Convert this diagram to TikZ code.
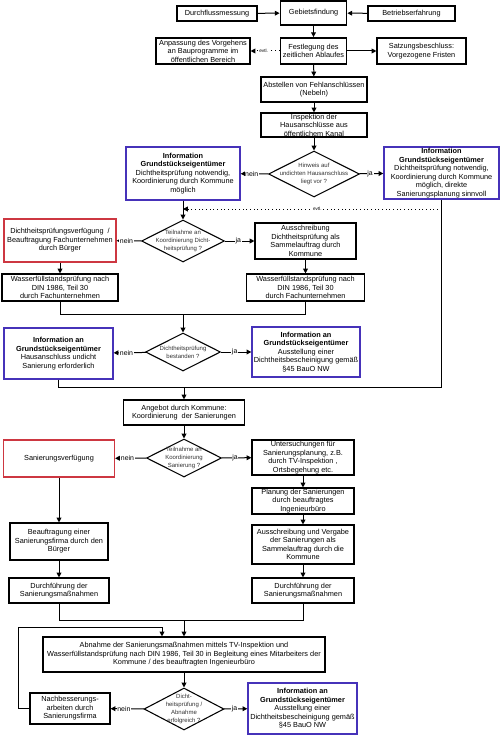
\documentclass[tikz,border=0pt]{standalone}
\usepackage{fontspec}
\setmainfont{Liberation Sans}
\usetikzlibrary{arrows.meta,shapes.geometric,calc}
\definecolor{redb}{RGB}{205,55,65}
\definecolor{blueb}{RGB}{70,50,185}
\begin{document}
\begin{tikzpicture}[x=0.75pt,y=-0.75pt,
  box/.style={draw, line width=0.85pt, align=center, inner sep=0pt, font=\fontsize{5.5}{6.4}\selectfont},
  thk/.style={box, line width=1.35pt},
  redbox/.style={box, draw=redb},
  bluebox/.style={box, draw=blueb, line width=1pt},
  sz/.style 2 args={minimum width=#1*0.75pt, minimum height=#2*0.75pt},
  dia/.style={draw, diamond, inner sep=0pt, line width=0.8pt},
  dtext/.style={align=center, inner sep=0pt, font=\fontsize{4.5}{5.8}\selectfont, text=black!80},
  arr/.style={line width=0.75pt, -{Triangle[length=3.6pt,width=3.6pt]}},
  ln/.style={line width=0.75pt},
  lbl/.style={fill=white, inner sep=0.5pt, font=\fontsize{5.2}{6}\selectfont},
  evtl/.style={fill=white, inner sep=0.6pt, font=\fontsize{3.5}{4}\selectfont},
  dots/.style={line width=0.75pt, dotted, -{Triangle[length=3.6pt,width=3.6pt]}}
]
\fill[white] (0,0) rectangle (500,735);
\useasboundingbox (0,0) rectangle (500,735);

% top rows
\node[box, sz={80}{15}] (durch) at (217,13.5) {Durchflussmessung};
\node[thk, sz={66}{24}] (gebiet) at (313.5,13) {Gebietsfindung};
\node[box, sz={87}{15}] (betrieb) at (411.5,13.5) {Betriebserfahrung};
\node[box, sz={94}{26}] (anpass) at (203,51) {Anpassung des Vorgehens\\an Bauprogramme im\\öffentlichen Bereich};
\node[thk, sz={66}{26}] (festleg) at (313.5,51) {Festlegung des\\zeitlichen Ablaufes};
\node[box, sz={89}{26}] (satzung) at (421.5,51) {Satzungsbeschluss:\\Vorgezogene Fristen};
\node[box, sz={106}{25}] (abstellen) at (314,89.5) {Abstellen von Fehlanschlüssen\\(Nebeln)};
\node[box, sz={106}{24}] (inspekt) at (314,125) {Inspektion der\\Hausanschlüsse aus\\öffentlichem Kanal};

% decision 1
\node[dia, minimum width=91*0.75pt, minimum height=46*0.75pt] (d1) at (314,174) {};
\node[dtext] (d1t) at (d1) {Hinweis auf\\undichten Hausanschluss\\liegt vor ?};
\node[bluebox, sz={114}{53}] (infoL) at (183,173.5) {\textbf{Information}\\\textbf{Grundstückseigentümer}\\Dichtheitsprüfung notwendig,\\Koordinierung durch Kommune\\möglich};
\node[bluebox, sz={115}{52}] (infoR) at (441.5,173) {\textbf{Information}\\\textbf{Grundstückseigentümer}\\Dichtheitsprüfung notwendig,\\Koordinierung durch Kommune\\möglich, direkte\\Sanierungsplanung sinnvoll};

% decision 2
\node[dia, minimum width=83*0.75pt, minimum height=42*0.75pt] (d2) at (183,241) {};
\node[dtext] (d2t) at (d2) {Teilnahme an\\Koordinierung Dicht-\\heitsprüfung ?};
\node[redbox, sz={112}{43}] (dvf) at (60,240.5) {Dichtheitsprüfungsverfügung~~/\\Beauftragung Fachunternehmen\\durch Bürger};
\node[box, sz={101}{36}] (aus1) at (305.5,241) {Ausschreibung\\Dichtheitsprüfung als\\Sammelauftrag durch\\Kommune};
\node[box, sz={116}{27}] (wasL) at (60,287.5) {Wasserfüllstandsprüfung nach\\DIN 1986, Teil 30\\durch Fachunternehmen};
\node[box, sz={118}{27}] (wasR) at (305.5,287.5) {Wasserfüllstandsprüfung nach\\DIN 1986, Teil 30\\durch Fachunternehmen};

% decision 3
\node[dia, minimum width=75*0.75pt, minimum height=38*0.75pt] (d3) at (183,352) {};
\node[dtext] (d3t) at (d3) {Dichtheitsprüfung\\bestanden ?};
\node[bluebox, sz={109}{51}] (info3L) at (58.5,353.5) {\textbf{Information an}\\\textbf{Grundstückseigentümer}\\Hausanschluss undicht\\Sanierung erforderlich};
\node[bluebox, sz={108}{50}] (info3R) at (306,352) {\textbf{Information an}\\\textbf{Grundstückseigentümer}\\Ausstellung einer\\Dichtheitsbescheinigung gemäß\\§45 BauO NW};

% Sanierung
\node[box, sz={121}{25}] (angebot) at (184,412.5) {Angebot durch Kommune:\\Koordinierung~~der Sanierungen};
\node[dia, minimum width=75*0.75pt, minimum height=38*0.75pt] (d4) at (184,458) {};
\node[dtext] (d4t) at (d4) {Teilnahme an\\Koordinierung\\Sanierung ?};
\node[redbox, sz={111}{37}] (sanv) at (59,458.5) {Sanierungsverfügung};
\node[box, sz={102}{35}] (unters) at (303,457.5) {Untersuchungen für\\Sanierungsplanung, z.B.\\durch TV-Inspektion ,\\Ortsbegehung etc.};
\node[box, sz={102}{26}] (planung) at (303,501) {Planung der Sanierungen\\durch beauftragtes\\Ingenieurbüro};
\node[box, sz={102}{39}] (ausver) at (303,544.5) {Ausschreibung und Vergabe\\der Sanierungen als\\Sammelauftrag durch die\\Kommune};
\node[box, sz={102}{25}] (durchR) at (303,590.5) {Durchführung der\\Sanierungsmaßnahmen};
\node[box, sz={98}{37}] (beauf) at (59,541.5) {Beauftragung einer\\Sanierungsfirma durch den\\Bürger};
\node[box, sz={100}{25}] (durchL) at (59,590.5) {Durchführung der\\Sanierungsmaßnahmen};

% Abnahme
\node[box, sz={282}{35}] (abnahme) at (184,654.5) {Abnahme der Sanierungsmaßnahmen mittels TV-Inspektion und\\Wasserfüllstandsprüfung nach DIN 1986, Teil 30 in Begleitung eines Mitarbeiters der\\Kommune / des beauftragten Ingenieurbüro};
\node[dia, minimum width=80*0.75pt, minimum height=42*0.75pt] (d5) at (184,709) {};
\node[dtext] (d5t) at (d5) {Dicht-\\heitsprüfung /\\Abnahme\\erfolgreich ?};
\node[box, sz={80}{31}] (nachb) at (70,708.5) {Nachbesserungs-\\arbeiten durch\\Sanierungsfirma};
\node[bluebox, sz={109}{51}] (info5) at (302.5,708.5) {\textbf{Information an}\\\textbf{Grundstückseigentümer}\\Ausstellung einer\\Dichtheitsbescheinigung gemäß\\§45 BauO NW};

% coordinates
\coordinate (ev) at (441.5,209);
\coordinate (evL) at (183,209);
\coordinate (j1L) at (60,314);
\coordinate (j1R) at (305.5,314);
\coordinate (j1M) at (183,314);
\coordinate (j2L) at (58.5,387);
\coordinate (j2R) at (441.5,387);
\coordinate (j2M) at (184,387);
\coordinate (j3L) at (59,620);
\coordinate (j3R) at (303,620);
\coordinate (j3M) at (184,620);
\coordinate (lpA) at (18,708.5);
\coordinate (lpB) at (18,627);
\coordinate (lpC) at (162,627);

% connectors
\draw[arr] (durch) -- (gebiet);
\draw[arr] (betrieb) -- (gebiet);
\draw[arr] (gebiet) -- (festleg);
\draw[dots] (festleg) -- node[evtl, pos=0.55]{evtl.} (anpass);
\draw[arr] (festleg) -- (satzung);
\draw[arr] (festleg) -- (abstellen);
\draw[arr] (abstellen) -- (inspekt);
\draw[arr] (inspekt) -- (d1);
\draw[arr] (d1) -- node[lbl, pos=0.6]{nein} (infoL);
\draw[arr] (d1) -- node[lbl, pos=0.45]{ja} (infoR);
\draw[arr] (infoL) -- (d2);
\draw[dots] (ev) -- node[evtl, pos=0.48]{evtl.} (evL);
\draw[arr] (d2) -- node[lbl, pos=0.6]{nein} (dvf);
\draw[arr] (d2) -- node[lbl, pos=0.45]{ja} (aus1);
\draw[arr] (dvf) -- (wasL);
\draw[arr] (aus1) -- (wasR);
\draw[ln] (wasL) -- (j1L) -- (j1R) -- (wasR);
\draw[arr] (j1M) -- (d3);
\draw[arr] (d3) -- node[lbl, pos=0.6]{nein} (info3L);
\draw[arr] (d3) -- node[lbl, pos=0.45]{ja} (info3R);
\draw[ln] (info3L) -- (j2L) -- (j2R) -- (infoR);
\draw[arr] (j2M) -- (angebot);
\draw[arr] (angebot) -- (d4);
\draw[arr] (d4) -- node[lbl, pos=0.6]{nein} (sanv);
\draw[arr] (d4) -- node[lbl, pos=0.45]{ja} (unters);
\draw[arr] (unters) -- (planung);
\draw[arr] (planung) -- (ausver);
\draw[arr] (ausver) -- (durchR);
\draw[arr] (sanv) -- (beauf);
\draw[arr] (beauf) -- (durchL);
\draw[ln] (durchL) -- (j3L) -- (j3R) -- (durchR);
\draw[arr] (j3M) -- (abnahme);
\draw[arr] (abnahme) -- (d5);
\draw[arr] (d5) -- node[lbl, pos=0.6]{nein} (nachb);
\draw[arr] (d5) -- node[lbl, pos=0.45]{ja} (info5);
\draw[arr] (nachb.west) -- (lpA) -- (lpB) -- (lpC) -- (lpC |- abnahme.north);
\end{tikzpicture}
\end{document}
